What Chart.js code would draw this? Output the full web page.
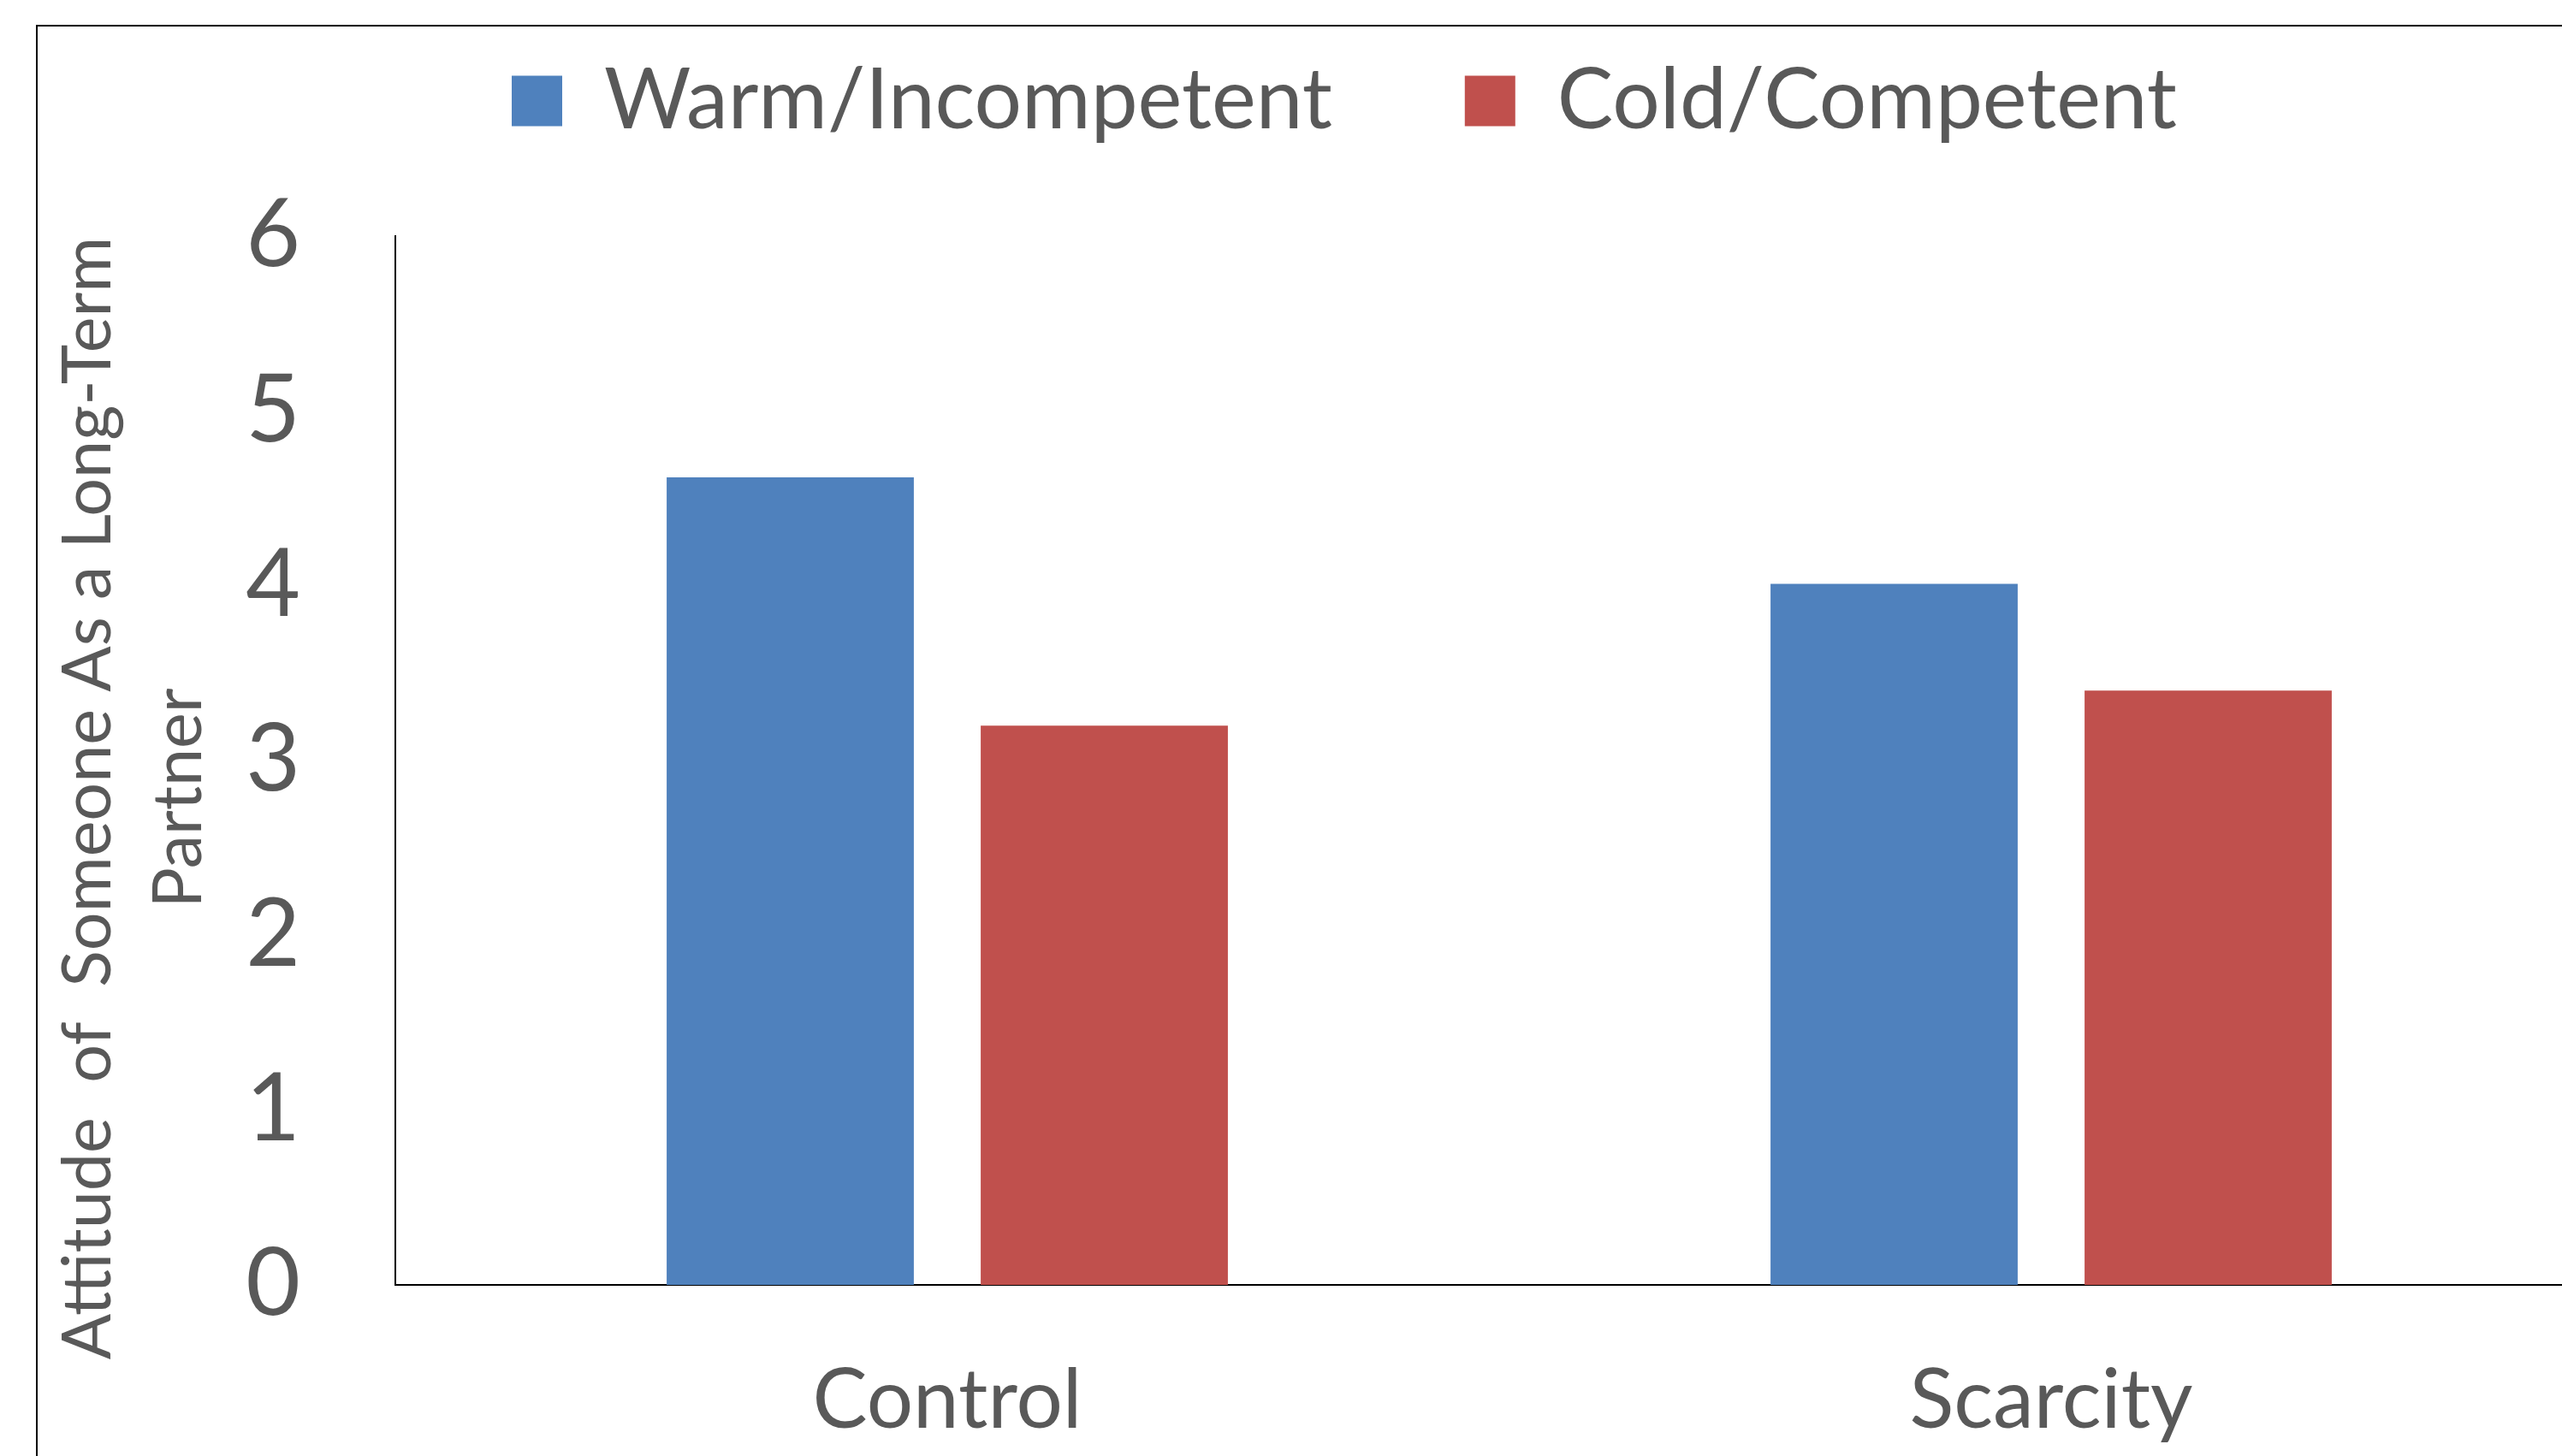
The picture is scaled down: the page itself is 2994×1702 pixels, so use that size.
<!DOCTYPE html>
<html>
<head>
<meta charset="utf-8"/>
<title>Attitude as a Long-Term Partner</title>
<script src="https://cdn.jsdelivr.net/npm/chart.js@4.4.0/dist/chart.umd.min.js"></script>
<style>
  html, body { margin: 0; padding: 0; background: #fff; overflow: hidden; width: 2994px; height: 1702px; }
  /* outer chart frame, only left and top edges are in view */
  #frame { position: absolute; left: 42px; top: 29px; width: 3200px; height: 1900px;
           border-left: 2px solid #000; border-top: 2px solid #000; }
  #chart { position: absolute; left: 0; top: -86px; }
</style>
</head>
<body>
<div id="frame"></div>
<canvas id="chart" width="3100" height="1800"></canvas>
<script>
// data
const categories = ['Control', 'Scarcity'];
const seriesNames = ['Warm/Incompetent', 'Cold/Competent'];
const warmValues = [4.62, 4.01];
const coldValues = [3.20, 3.40];
const yTicks = [0, 1, 2, 3, 4, 5, 6];
const yTitleLines = ['Attitude  of  Someone As a Long-Term', 'Partner'];

const textColor = '#595959';
const blue = '#4F81BD';
const red = '#C0504D';

// y title drawn by hand so it can sit a bit below the plot centre like the original
const yTitlePlugin = {
  id: 'yTitle',
  afterDraw(chart) {
    const ctx = chart.ctx;
    const area = chart.chartArea;
    const cy = (area.top + area.bottom) / 2 + 44;
    ctx.save();
    ctx.font = '79px Lato';
    ctx.fillStyle = textColor;
    ctx.textAlign = 'center';
    ctx.textBaseline = 'alphabetic';
    yTitleLines.forEach((line, i) => {
      ctx.save();
      ctx.translate(129 + i * 106, cy);
      ctx.rotate(-Math.PI / 2);
      ctx.fillText(line, 0, 0);
      ctx.restore();
    });
    ctx.restore();
  }
};

// make the legend tall enough to push the plot down
const legendHeightPlugin = {
  id: 'legendHeight',
  beforeInit(chart) {
    const fitOrig = chart.legend.fit;
    chart.legend.fit = function () {
      fitOrig.call(this);
      this.height = 362;
    };
  }
};

const draw = () => {
  const data = {
    labels: categories,
    datasets: [
      { label: seriesNames[0], data: warmValues, backgroundColor: blue, borderWidth: 0 },
      { label: seriesNames[1], data: coldValues, backgroundColor: red, borderWidth: 0 }
    ]
  };

  const config = {
    type: 'bar',
    data: data,
    options: {
      responsive: false,
      animation: false,
      layout: { padding: { left: 100, right: 58, top: 0, bottom: 0 } },
      datasets: {
        bar: { categoryPercentage: 0.569, barPercentage: 0.787 }
      },
      plugins: {
        tooltip: { enabled: false },
        legend: {
          position: 'top',
          labels: {
            font: { family: 'Lato', size: 98 },
            color: textColor,
            boxWidth: 59,
            boxHeight: 59,
            padding: 155
          }
        }
      },
      scales: {
        x: {
          grid: { display: false, drawTicks: false },
          border: { display: true, color: '#000', width: 2 },
          ticks: {
            font: { family: 'Lato', size: 96 },
            color: textColor,
            padding: 78,
            maxRotation: 0,
            autoSkip: false
          },
          afterFit: (scale) => { scale.height = 212; }
        },
        y: {
          min: yTicks[0],
          max: yTicks[yTicks.length - 1],
          grid: { display: false, drawTicks: false },
          border: { display: true, color: '#000', width: 2 },
          ticks: {
            stepSize: yTicks[1] - yTicks[0],
            font: { family: 'Lato', size: 110 },
            color: textColor,
            padding: 111
          },
          afterFit: (scale) => { scale.width = 362; }
        }
      }
    },
    plugins: [legendHeightPlugin, yTitlePlugin]
  };

  new Chart(document.getElementById('chart'), config);
};

document.fonts.load('96px Lato').then(draw, draw);
</script>
</body>
</html>
